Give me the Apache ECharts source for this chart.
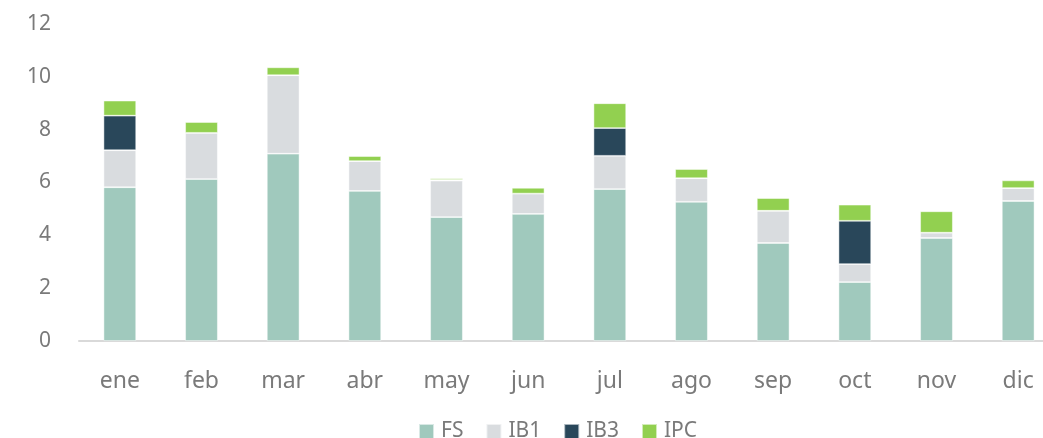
<!DOCTYPE html>
<html>
<head>
<meta charset="utf-8">
<script src="https://cdn.jsdelivr.net/npm/echarts@6/dist/echarts.min.js"></script>
<style>
  html, body { margin: 0; padding: 0; background: #fff; }
  #chart { width: 1043px; height: 438px; }
</style>
</head>
<body>
<div id="chart"></div>
<script>
// data
const months = ['ene', 'feb', 'mar', 'abr', 'may', 'jun', 'jul', 'ago', 'sep', 'oct', 'nov', 'dic'];
const fs  = [5.82, 6.13, 7.09, 5.68, 4.69, 4.81, 5.75, 5.27, 3.71, 2.23, 3.90, 5.30];
const ib1 = [1.40, 1.75, 2.97, 1.13, 1.38, 0.77, 1.26, 0.89, 1.22, 0.68, 0.20, 0.49];
const ib3 = [1.31, 0, 0, 0, 0.03, 0, 1.05, 0, 0, 1.64, 0, 0];
const ipc = [0.57, 0.41, 0.30, 0.19, 0.06, 0.22, 0.94, 0.35, 0.48, 0.61, 0.81, 0.29];
const yTicks = [0, 2, 4, 6, 8, 10, 12];

const font = 'Noto Sans';
const grey = '#7a7a7a';

function stackSeries(name, data, color) {
  return {
    name,
    type: 'bar',
    stack: 'total',
    data,
    barWidth: '40%',
    itemStyle: { color, borderColor: 'rgba(255,255,255,0.6)', borderWidth: 0.8 },
    emphasis: { disabled: true }
  };
}

const chart = echarts.init(document.getElementById('chart'));
chart.setOption({
  animation: false,
  // plot runs past the right edge of the picture, like the reference crop
  grid: { left: 79, width: 980, top: 24, height: 317, outerBoundsMode: 'none', containLabel: false },
  legend: {
    top: 416,
    left: 413,
    itemWidth: 15,
    itemHeight: 15,
    itemGap: 22,
    icon: 'rect',
    textStyle: { fontFamily: font, fontSize: 21, color: grey, padding: [0, 0, 0, 2] },
    data: ['FS', 'IB1', 'IB3', 'IPC']
  },
  xAxis: {
    type: 'category',
    data: months,
    axisLine: { lineStyle: { color: '#d9d9d9', width: 2 } },
    axisTick: { show: false },
    axisLabel: { fontFamily: font, fontSize: 23, color: grey, margin: 29 }
  },
  yAxis: {
    type: 'value',
    min: yTicks[0],
    max: yTicks[yTicks.length - 1],
    interval: 2,
    splitLine: { show: false },
    axisLine: { show: false },
    axisLabel: { fontFamily: font, fontSize: 21, color: grey, margin: 28 }
  },
  series: [
    stackSeries('FS', fs, '#a0c9bd'),
    stackSeries('IB1', ib1, '#d9dcdf'),
    stackSeries('IB3', ib3, '#29475a'),
    stackSeries('IPC', ipc, '#92d050')
  ]
});
</script>
</body>
</html>
